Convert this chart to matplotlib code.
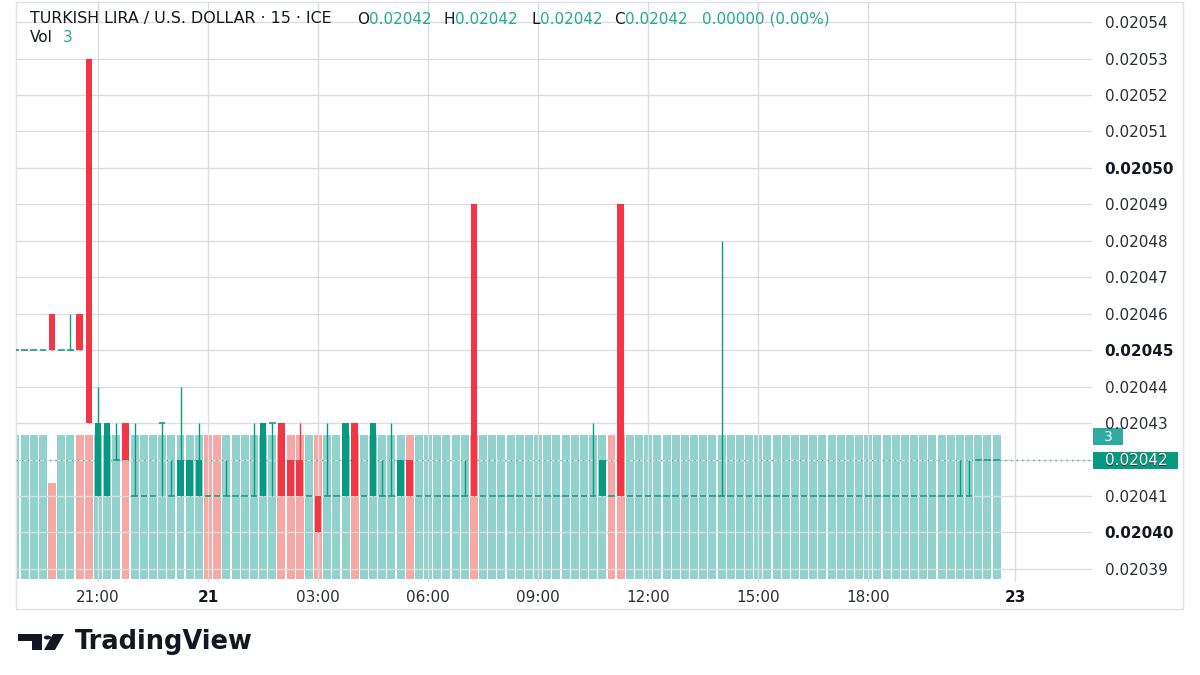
import numpy as np
import matplotlib
matplotlib.use("Agg")
import matplotlib.pyplot as plt
from matplotlib.patches import Rectangle, Polygon, Circle

# ---------------- data ----------------
bar_index = list(range(-9, 99))
opens = [0.02045, 0.02045, 0.02045, 0.02045, 0.02046, 0.02045, 0.02045, 0.02046, 0.02053,  # -9..-1
         0.02041, 0.02041, 0.02042, 0.02043, 0.02041, 0.02041, 0.02041, 0.02043, 0.02041, 0.02041,  # 0..9
         0.02041, 0.02041, 0.02041, 0.02041, 0.02041, 0.02041, 0.02041, 0.02041, 0.02041, 0.02043,  # 10..19
         0.02043, 0.02042, 0.02042, 0.02041, 0.02041, 0.02041, 0.02041, 0.02041, 0.02043, 0.02041,  # 20..29
         0.02041, 0.02041, 0.02041, 0.02041, 0.02042, 0.02041, 0.02041, 0.02041, 0.02041, 0.02041,  # 30..39
         0.02041, 0.02049] + [0.02041] * 12 + [0.02041, 0.02041, 0.02041, 0.02049] + [0.02041] * 10 + \
        [0.02041] + [0.02041] * 25 + [0.02041, 0.02041, 0.02042, 0.02042, 0.02042]
closes = [0.02045, 0.02045, 0.02045, 0.02045, 0.02045, 0.02045, 0.02045, 0.02045, 0.02043,
          0.02043, 0.02043, 0.02042, 0.02042, 0.02041, 0.02041, 0.02041, 0.02043, 0.02041, 0.02042,
          0.02042, 0.02042, 0.02041, 0.02041, 0.02041, 0.02041, 0.02041, 0.02041, 0.02043, 0.02043,
          0.02041, 0.02041, 0.02041, 0.02041, 0.02040, 0.02041, 0.02041, 0.02043, 0.02041, 0.02041,
          0.02043, 0.02041, 0.02041, 0.02042, 0.02041, 0.02041, 0.02041, 0.02041, 0.02041, 0.02041,
          0.02041, 0.02041] + [0.02041] * 12 + [0.02041, 0.02042, 0.02041, 0.02041] + [0.02041] * 10 + \
         [0.02041] + [0.02041] * 25 + [0.02041, 0.02041, 0.02042, 0.02042, 0.02042]
highs = [0.02045, 0.02045, 0.02045, 0.02045, 0.02046, 0.02045, 0.02046, 0.02046, 0.02053,
         0.02044, 0.02043, 0.02043, 0.02043, 0.02043, 0.02041, 0.02041, 0.02043, 0.02042, 0.02044,
         0.02042, 0.02043, 0.02041, 0.02041, 0.02042, 0.02041, 0.02041, 0.02043, 0.02043, 0.02043,
         0.02043, 0.02042, 0.02043, 0.02041, 0.02041, 0.02043, 0.02041, 0.02043, 0.02043, 0.02041,
         0.02043, 0.02042, 0.02043, 0.02042, 0.02042, 0.02041, 0.02041, 0.02041, 0.02041, 0.02041,
         0.02042, 0.02049] + [0.02041] * 12 + [0.02043, 0.02042, 0.02041, 0.02049] + [0.02041] * 10 + \
        [0.02048] + [0.02041] * 25 + [0.02042, 0.02042, 0.02042, 0.02042, 0.02042]
lows = [0.02045, 0.02045, 0.02045, 0.02045, 0.02045, 0.02045, 0.02045, 0.02045, 0.02043,
        0.02041, 0.02041, 0.02042, 0.02042, 0.02041, 0.02041, 0.02041, 0.02041, 0.02041, 0.02041,
        0.02041, 0.02041, 0.02041, 0.02041, 0.02041, 0.02041, 0.02041, 0.02041, 0.02041, 0.02041,
        0.02041, 0.02041, 0.02041, 0.02041, 0.02040, 0.02041, 0.02041, 0.02041, 0.02041, 0.02041,
        0.02041, 0.02041, 0.02041, 0.02041, 0.02041, 0.02041, 0.02041, 0.02041, 0.02041, 0.02041,
        0.02041, 0.02041] + [0.02041] * 12 + [0.02041, 0.02041, 0.02041, 0.02041] + [0.02041] * 10 + \
       [0.02041] + [0.02041] * 25 + [0.02041, 0.02041, 0.02042, 0.02042, 0.02042]
volumes = [3, 3, 3, 3, 2] + [3] * 103
vol_down = [-5, -2, -1, 3, 12, 13, 20, 21, 22, 24, 28, 34, 41, 56, 57]

tick_pos = [0, 12, 24, 36, 48, 60, 72, 84, 100]
tick_labels = ["21:00", "21", "03:00", "06:00", "09:00", "12:00", "15:00", "18:00", "23"]
bold_ticks = ["21", "23"]
price_ticks = [0.02039, 0.02040, 0.02041, 0.02042, 0.02043, 0.02044, 0.02045, 0.02046,
               0.02047, 0.02048, 0.02049, 0.02050, 0.02051, 0.02052, 0.02053, 0.02054]
bold_prices = [0.02040, 0.02045, 0.02050]
last_price = 0.02042
last_volume = 3

# ---------------- style ----------------
UP = "#089981"
DOWN = "#f23645"
VOL_UP = (38/255, 166/255, 154/255, 0.5)
VOL_DN = (239/255, 83/255, 80/255, 0.5)
TXT = "#131722"
GRID = "#dcdcdc"
plt.rcParams['font.family'] = ['DejaVu Sans']

W, H = 1200, 675
fig = plt.figure(figsize=(12, 6.75), dpi=100)
fig.patch.set_facecolor("white")

def fx(px):
    return px / W

def fy(py):
    return 1 - py / H

ax = fig.add_axes([fx(16), fy(582), fx(1092) - fx(16), fy(2) - fy(582)])
axv = ax.twinx()
ax.set_zorder(2)
ax.patch.set_visible(False)

x = np.array(bar_index)
o = np.array(opens); c = np.array(closes); h = np.array(highs); l = np.array(lows)

# volume
vcols = [VOL_DN if i in vol_down else VOL_UP for i in bar_index]
axv.bar(x, volumes, width=0.87, color=vcols, linewidth=0)
axv.set_ylim(-0.0625, 12.02)
axv.set_yticks([])
for s in axv.spines.values():
    s.set_visible(False)

# candles
down = c < o
doji = c == o
ccol = np.where(down, DOWN, UP)
ax.vlines(x, l, h, colors=ccol, linewidth=1, zorder=3)
bw = 0.72
ax.bar(x[~doji], np.abs(c - o)[~doji], bottom=np.minimum(o, c)[~doji], width=bw,
       color=ccol[~doji], linewidth=0, zorder=4)
ax.hlines(o[doji], x[doji] - bw / 2, x[doji] + bw / 2, colors=UP, linewidth=1.1, zorder=4)

# last price dotted line
ax.axhline(last_price, color=UP, linestyle=(0, (1, 3)), linewidth=1, alpha=0.7, zorder=2)

ax.set_xlim(-8.94, 108.4)
ax.set_ylim(0.0203864, 0.0205455)

# grid
ax.set_yticks(price_ticks)
ax.set_xticks(tick_pos)
ax.grid(True, color=GRID, linewidth=1)
ax.set_axisbelow(True)
ax.yaxis.tick_right()
ax.set_yticklabels([f"{v:.5f}" for v in price_ticks])
ax.set_xticklabels(tick_labels)
ax.tick_params(axis="y", length=0, pad=9, labelsize=11, labelcolor="#2a2e39")
ax.tick_params(axis="x", length=0, pad=6, labelsize=11, labelcolor="#2a2e39")
for t, v in zip(ax.get_yticklabels(), price_ticks):
    if any(abs(v - b) < 1e-9 for b in bold_prices):
        t.set_fontweight("bold")
        t.set_color(TXT)
for t in ax.get_xticklabels():
    if t.get_text() in bold_ticks:
        t.set_fontweight("bold")
        t.set_color(TXT)
for s in ax.spines.values():
    s.set_visible(False)

# panel border
fig.patches.append(Rectangle((fx(16), fy(609)), fx(1183) - fx(16), fy(2) - fy(609),
                             transform=fig.transFigure, fill=False, edgecolor="#e0e3eb", linewidth=1))

# right side labels
fig.patches.append(Rectangle((fx(1093), fy(445)), fx(1123) - fx(1093), fy(428) - fy(445),
                             transform=fig.transFigure, facecolor="#26a69a", edgecolor="none", alpha=0.95))
fig.text(fx(1108), fy(437), f"{last_volume}", color="white", fontsize=10, ha="center", va="center")
fig.patches.append(Rectangle((fx(1093), fy(469)), fx(1178) - fx(1093), fy(452) - fy(469),
                             transform=fig.transFigure, facecolor=UP, edgecolor="none"))
fig.text(fx(1136), fy(460.5), f"{last_price:.5f}", color="white", fontsize=11, ha="center", va="center")

# header
HT = "#22ab94"
yh = fy(19)
fig.text(fx(30), yh, "TURKISH LIRA / U.S. DOLLAR · 15 · ICE", color=TXT, fontsize=11.4, va="center")
for lab, xs, val in [("O", 369, opens[-1]), ("H", 455, highs[-1]), ("L", 540, lows[-1]), ("C", 625, closes[-1])]:
    fig.text(fx(xs), yh, lab, color=TXT, fontsize=11, va="center", ha="right")
    fig.text(fx(xs), yh, f"{val:.5f}", color=HT, fontsize=11, va="center", ha="left")
chg = closes[-1] - opens[-1]
fig.text(fx(702), yh, f"{chg:.5f} ({chg / opens[-1] * 100:.2f}%)", color=HT, fontsize=11, va="center")
fig.text(fx(30), fy(38), "Vol", color=TXT, fontsize=11, va="center")
fig.text(fx(63), fy(38), f"{volumes[-1]}", color=HT, fontsize=11, va="center")

# TradingView logo
LOGO = "#131722"
def P(pts):
    return [(fx(a), fy(b)) for a, b in pts]
fig.patches.append(Polygon(P([(18, 634), (42, 634), (42, 650), (32, 650), (32, 641), (18, 641)]),
                           closed=True, transform=fig.transFigure, facecolor=LOGO, edgecolor="none"))
fig.patches.append(Circle((fx(47.5), fy(637.5)), 3.6 / W, transform=fig.transFigure,
                          facecolor=LOGO, edgecolor="none"))
fig.patches.append(Polygon(P([(53, 634), (64, 634), (55, 650), (44, 650)]),
                           closed=True, transform=fig.transFigure, facecolor=LOGO, edgecolor="none"))
fig.text(fx(75), fy(642), "TradingView", color=LOGO, fontsize=18.5, fontweight="bold", va="center")

fig.savefig("out.png", dpi=100, facecolor="white")
